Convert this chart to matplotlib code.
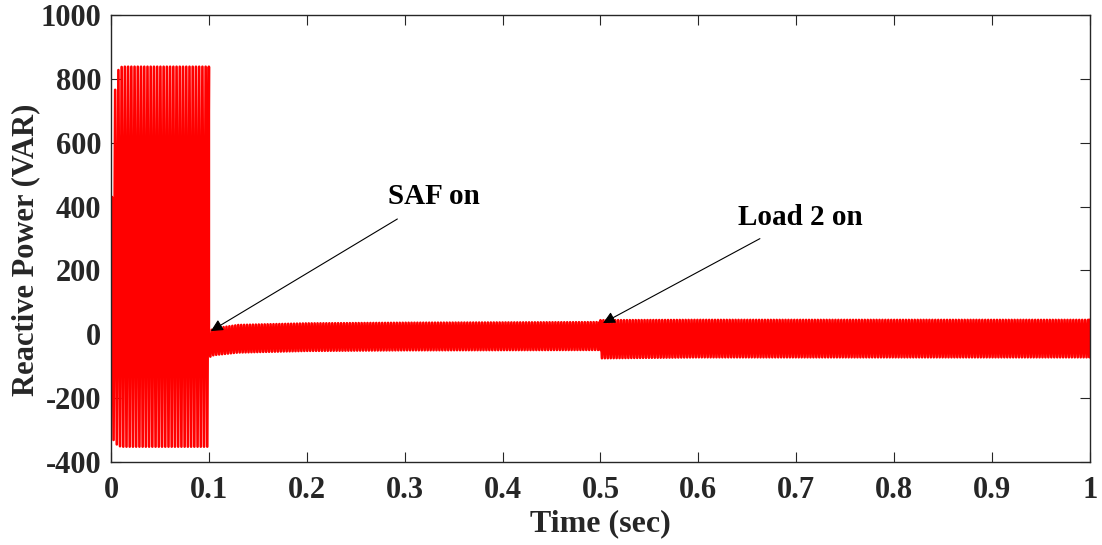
import matplotlib
matplotlib.use("Agg")
import matplotlib.pyplot as plt
import numpy as np

# envelope of the reactive power ripple
# before SAF turns on (0 - 0.1 s)
T_PRE = [0.001, 0.004, 0.008, 0.012, 0.1]
UP_PRE = [430, 760, 835, 838, 838]
LO_PRE = [-320, -340, -350, -352, -352]
PERIOD_PRE = 0.0033

# SAF on, load 1 only (0.1 - 0.5 s)
T_SAF = [0.1, 0.105, 0.13, 0.2, 0.3, 0.5]
UP_SAF = [8, 18, 29, 34, 36, 38]
LO_SAF = [-72, -65, -57, -52, -50, -49]

# load 2 on (0.5 - 1.0 s)
T_LOAD2 = [0.5, 0.6, 0.8, 1.0]
UP_LOAD2 = [44, 45, 45, 45]
LO_LOAD2 = [-75, -72, -72, -72]
PERIOD_POST = 0.003

X_TICKS = [0, 0.1, 0.2, 0.3, 0.4, 0.5, 0.6, 0.7, 0.8, 0.9, 1]
X_LABELS = ["0", "0.1", "0.2", "0.3", "0.4", "0.5", "0.6", "0.7", "0.8", "0.9", "1"]
Y_TICKS = [-400, -200, 0, 200, 400, 600, 800, 1000]

FONT = "Liberation Serif"
plt.rcParams["axes.unicode_minus"] = False


def ripple(t_knots, up, lo, period):
    # alternate between upper and lower envelope every half period
    t = np.arange(t_knots[0], t_knots[-1], period / 2)
    t = np.append(t, t_knots[-1])
    top = np.interp(t, t_knots, up)
    bot = np.interp(t, t_knots, lo)
    idx = np.arange(len(t))
    return t, np.where(idx % 2 == 0, top, bot)


t1, y1 = ripple(T_PRE, UP_PRE, LO_PRE, PERIOD_PRE)
t1 = np.insert(t1, 0, 0.0)
y1 = np.insert(y1, 0, 0.0)
t2, y2 = ripple(T_SAF, UP_SAF, LO_SAF, PERIOD_POST)
t3, y3 = ripple(T_LOAD2, UP_LOAD2, LO_LOAD2, PERIOD_POST)

t = np.concatenate([t1, t2, t3])
y = np.concatenate([y1, y2, y3])

fig = plt.figure(figsize=(11.02, 5.45), dpi=100)
ax = fig.add_axes([0.1007, 0.1523, 0.8884, 0.8202])

ax.plot(t, y, color="#ff0000", linewidth=1.9)

ax.set_xlim(0, 1)
ax.set_ylim(-400, 1000)
ax.set_xticks(X_TICKS)
ax.set_xticklabels(X_LABELS)
ax.set_yticks(Y_TICKS)

for sp in ax.spines.values():
    sp.set_color("#262626")
    sp.set_linewidth(1.0)

ax.tick_params(direction="in", length=7, width=0.8, color="#262626",
               top=True, right=True, labelsize=22, labelcolor="#262626")
ax.tick_params(axis="x", pad=10)
ax.tick_params(axis="y", pad=7)
for lab in ax.get_xticklabels() + ax.get_yticklabels():
    lab.set_fontfamily(FONT)
    lab.set_fontweight("bold")

ax.set_xlabel("Time (sec)", fontsize=23, fontweight="bold", family=FONT,
              color="#262626", labelpad=3)
ax.set_ylabel("Reactive Power (VAR)", fontsize=22, fontweight="bold", family=FONT,
              color="#262626", va="center")
ax.yaxis.set_label_coords(-0.087, 0.474)

ax.annotate("SAF on", xy=(0.102, 10), xytext=(0.283, 430),
            fontsize=21, fontweight="bold", family=FONT, va="center", ha="left",
            arrowprops=dict(arrowstyle="-|>", color="black", lw=0.8,
                            shrinkA=8, shrinkB=0, mutation_scale=18))
ax.annotate("Load 2 on", xy=(0.5026, 35), xytext=(0.640, 367),
            fontsize=21, fontweight="bold", family=FONT, va="center", ha="left",
            arrowprops=dict(arrowstyle="-|>", color="black", lw=0.8,
                            shrinkA=8, shrinkB=0, mutation_scale=18))

fig.savefig("out.png", dpi=100)
